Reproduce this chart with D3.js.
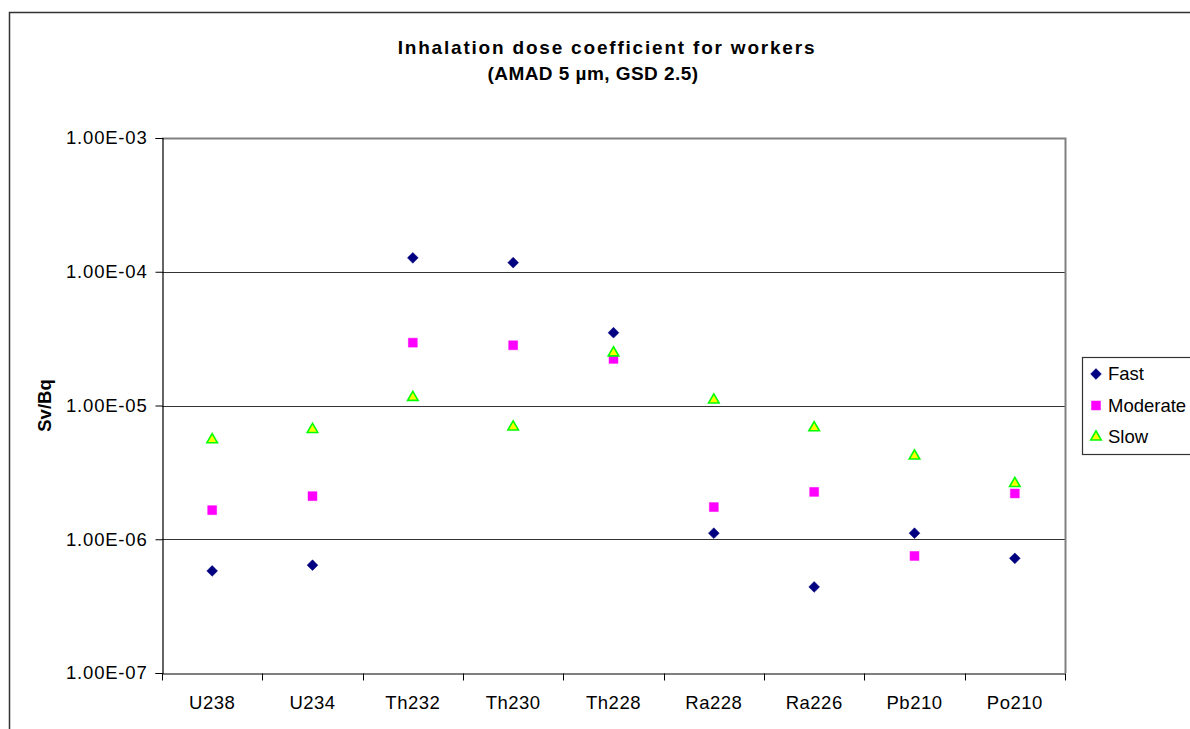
<!DOCTYPE html>
<html>
<head>
<meta charset="utf-8">
<script src="https://cdn.jsdelivr.net/npm/d3@7"></script>
<style>
  body { margin: 0; background: #fff; }
  svg { display: block; font-family: "Liberation Sans", Arial, sans-serif; }
</style>
</head>
<body>
<div id="chart"></div>
<script>
// chart size
var width = 1190;
var height = 729;

// data (Sv/Bq)
var nuclides = ["U238", "U234", "Th232", "Th230", "Th228", "Ra228", "Ra226", "Pb210", "Po210"];
var fastValues = [5.8e-7, 6.4e-7, 1.27e-4, 1.17e-4, 3.5e-5, 1.11e-6, 4.4e-7, 1.11e-6, 7.2e-7];
var moderateValues = [1.65e-6, 2.1e-6, 2.95e-5, 2.82e-5, 2.23e-5, 1.74e-6, 2.26e-6, 7.5e-7, 2.2e-6];
var slowValues = [5.7e-6, 6.8e-6, 1.18e-5, 7.1e-6, 2.54e-5, 1.13e-5, 7.0e-6, 4.3e-6, 2.68e-6];
var yTicks = [1e-7, 1e-6, 1e-5, 1e-4, 1e-3];

// series definitions
var seriesList = [
  { name: "Fast", values: fastValues, shape: "diamond", fill: "#000080", stroke: "#000080" },
  { name: "Moderate", values: moderateValues, shape: "square", fill: "#ff00ff", stroke: "#ff00ff" },
  { name: "Slow", values: slowValues, shape: "triangle", fill: "#ffff00", stroke: "#00ff00" }
];

var plot = { left: 162, right: 1065, top: 138, bottom: 673 };

var svg = d3.select("#chart")
  .append("svg")
  .attr("width", width)
  .attr("height", height);

// outer chart frame (runs off the page right and bottom)
svg.append("rect")
  .attr("x", 9.5)
  .attr("y", 12.5)
  .attr("width", 1300)
  .attr("height", 800)
  .attr("fill", "#fff")
  .attr("stroke", "#333")
  .attr("stroke-width", 1.5);

var xScale = d3.scaleBand()
  .domain(nuclides)
  .range([plot.left, plot.right]);

var yScale = d3.scaleLog()
  .domain([1e-7, 1e-3])
  .range([plot.bottom, plot.top]);

// gridlines
svg.append("g")
  .selectAll("line")
  .data(yTicks.slice(1, 4))
  .enter()
  .append("line")
  .attr("x1", plot.left)
  .attr("x2", plot.right)
  .attr("y1", function(d) { return Math.round(yScale(d)) + 0.5; })
  .attr("y2", function(d) { return Math.round(yScale(d)) + 0.5; })
  .attr("stroke", "#333")
  .attr("stroke-width", 1.2);

// plot area top and right border
svg.append("path")
  .attr("d", "M" + plot.left + "," + (plot.top + 0.5) + "H" + (plot.right + 0.5) + "V" + plot.bottom)
  .attr("fill", "none")
  .attr("stroke", "#808080")
  .attr("stroke-width", 2);

// y axis
var yAxis = d3.axisLeft(yScale)
  .tickValues(yTicks)
  .tickSize(7)
  .tickPadding(8)
  .tickFormat(function(d) {
    var e = Math.round(Math.log10(d));
    return "1.00E-" + (Math.abs(e) < 10 ? "0" : "") + Math.abs(e);
  });

var yAxisG = svg.append("g")
  .attr("transform", "translate(" + (plot.left + 0.5) + ",0)")
  .call(yAxis);

yAxisG.selectAll(".tick text").attr("letter-spacing", "0.8px");

// x axis, ticks on category boundaries
var xAxis = d3.axisBottom(xScale)
  .tickSize(0)
  .tickPadding(22);

var xAxisG = svg.append("g")
  .attr("transform", "translate(0," + (plot.bottom + 0.5) + ")")
  .call(xAxis);

xAxisG.selectAll(".tick text").attr("letter-spacing", "0.5px");

xAxisG.selectAll(".boundary")
  .data(d3.range(nuclides.length + 1))
  .enter()
  .append("line")
  .attr("class", "boundary")
  .attr("x1", function(i) { return Math.round(plot.left + i * xScale.step()) + 0.5; })
  .attr("x2", function(i) { return Math.round(plot.left + i * xScale.step()) + 0.5; })
  .attr("y1", 0)
  .attr("y2", 7)
  .attr("stroke", "#000");

svg.selectAll(".domain").attr("stroke", "#000").attr("stroke-width", 1.2);
svg.selectAll(".tick line").attr("stroke", "#000");
svg.selectAll(".tick text")
  .attr("font-size", "18.5px")
  .attr("font-family", "'Liberation Sans', Arial, sans-serif")
  .attr("fill", "#000");

// marker generators
var symbolFor = {
  diamond: d3.symbol().type(d3.symbolSquare).size(58),
  square: d3.symbol().type(d3.symbolSquare).size(80),
  triangle: d3.symbol().type(d3.symbolTriangle).size(48)
};

function drawMarker(sel, s) {
  sel.append("path")
    .attr("d", symbolFor[s.shape]())
    .attr("fill", s.fill)
    .attr("stroke", s.stroke)
    .attr("stroke-width", s.shape === "triangle" ? 1.6 : 0.5)
    .attr("transform", function() {
      return s.shape === "diamond" ? "rotate(45)" : null;
    });
}

// points
seriesList.forEach(function(s) {
  var g = svg.append("g").attr("class", "series-" + s.name);
  g.selectAll("g")
    .data(s.values)
    .enter()
    .append("g")
    .attr("transform", function(d, i) {
      var cx = xScale(nuclides[i]) + xScale.bandwidth() / 2;
      var cy = yScale(d) + (s.shape === "triangle" ? 1.5 : 0);
      return "translate(" + cx + "," + cy + ")";
    })
    .each(function() { drawMarker(d3.select(this), s); });
});

// title
svg.append("text")
  .attr("x", 607)
  .attr("y", 54)
  .attr("text-anchor", "middle")
  .attr("font-size", "19px")
  .attr("font-weight", "bold")
  .attr("letter-spacing", "1.8px")
  .text("Inhalation dose coefficient for workers");

svg.append("text")
  .attr("x", 593)
  .attr("y", 80)
  .attr("text-anchor", "middle")
  .attr("font-size", "19px")
  .attr("font-weight", "bold")
  .attr("letter-spacing", "0.45px")
  .text("(AMAD 5 \u00b5m, GSD 2.5)");

// y axis title
svg.append("text")
  .attr("transform", "translate(51," + ((plot.top + plot.bottom) / 2) + ") rotate(-90)")
  .attr("text-anchor", "middle")
  .attr("font-size", "18.5px")
  .attr("font-weight", "bold")
  .text("Sv/Bq");

// legend
var legendBox = svg.append("g").attr("class", "legend");

legendBox.append("rect")
  .attr("x", 1082.5)
  .attr("y", 357.5)
  .attr("width", 200)
  .attr("height", 97)
  .attr("fill", "#fff")
  .attr("stroke", "#333")
  .attr("stroke-width", 1.2);

var legend = legendBox.selectAll("g")
  .data(seriesList)
  .enter()
  .append("g")
  .attr("transform", function(d, i) {
    return "translate(1096," + (374 + i * 31.5) + ")";
  });

legend.each(function(s) { drawMarker(d3.select(this), s); });

legend.append("text")
  .attr("x", 12)
  .attr("y", 0)
  .attr("dy", ".35em")
  .attr("font-size", "18.5px")
  .text(function(d) { return d.name; });
</script>
</body>
</html>
